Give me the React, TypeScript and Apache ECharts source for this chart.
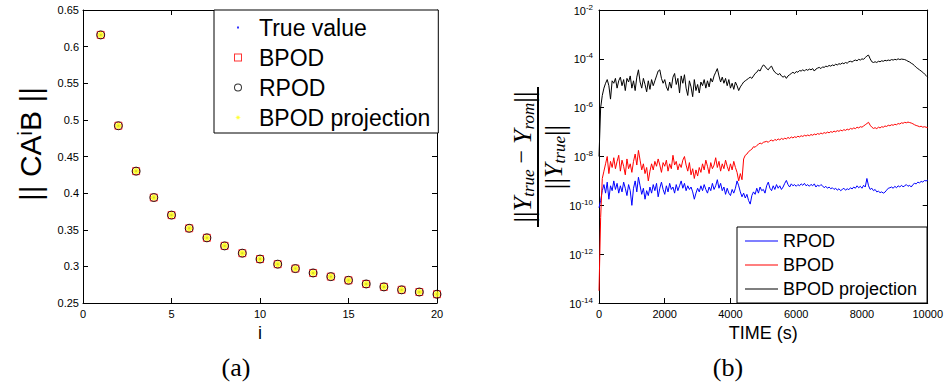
import React, { useEffect, useRef } from "react";
import * as echarts from "echarts";

const SANS = '"Liberation Sans", Arial, Helvetica, sans-serif';
const SERIF = '"Liberation Serif", "Times New Roman", serif';

// ---------- Panel (a): || C A^i B || versus i ----------
const powerIndex = [1, 2, 3, 4, 5, 6, 7, 8, 9, 10, 11, 12, 13, 14, 15, 16, 17, 18, 19, 20];
const trueValue = [0.616, 0.492, 0.43, 0.394, 0.37, 0.352, 0.339, 0.328, 0.318, 0.31, 0.303, 0.297, 0.291, 0.286, 0.281, 0.276, 0.272, 0.268, 0.265, 0.262];
const bpodValue = [0.616, 0.492, 0.43, 0.394, 0.37, 0.352, 0.339, 0.328, 0.318, 0.31, 0.303, 0.297, 0.291, 0.286, 0.281, 0.276, 0.272, 0.268, 0.265, 0.262];
const rpodValue = [0.616, 0.492, 0.43, 0.394, 0.37, 0.352, 0.339, 0.328, 0.318, 0.31, 0.303, 0.297, 0.291, 0.286, 0.281, 0.276, 0.272, 0.268, 0.265, 0.262];
const bpodProjValue = [0.616, 0.492, 0.43, 0.394, 0.37, 0.352, 0.339, 0.328, 0.318, 0.31, 0.303, 0.297, 0.291, 0.286, 0.281, 0.276, 0.272, 0.268, 0.265, 0.262];

// ---------- Panel (b): relative output error (log10), sampled every 50 s ----------
const TIME_STEP_S = 50;
const rpodLog10 = [
  -10.1, -9.8, -9.4, -9.15, -9.5, -9.05, -9.75, -9.2, -9.4, -9.0,
  -9.35, -9.1, -9.5, -9.2, -9.45, -9.05, -9.3, -9.6, -9.15, -9.4,
  -10.0, -9.3, -9.0, -9.45, -8.85, -9.2, -9.55, -9.3, -9.75, -9.4,
  -9.6, -9.25, -9.5, -9.15, -9.4, -9.1, -9.65, -9.3, -9.05, -9.35,
  -9.55, -9.2, -9.45, -9.1, -9.35, -9.25, -9.5, -9.15, -9.4, -9.2,
  -9.0, -9.3, -9.1, -9.4, -9.2, -9.35, -9.25, -9.45, -9.75, -9.5,
  -9.3, -9.45, -9.2, -9.4, -9.15, -9.35, -9.5, -9.25, -9.4, -9.1,
  -9.35, -9.2, -8.95, -9.3, -9.1, -9.4, -9.25, -9.55, -9.3, -9.5,
  -9.6, -9.35, -9.5, -9.3, -9.0, -9.2, -9.45, -9.65, -9.5, -9.7,
  -9.55, -9.8, -9.95, -9.6, -9.45, -9.55, -9.3, -9.5, -9.25, -9.4,
  -9.35, -9.5, -9.2, -9.05, -9.3, -9.4, -9.2, -9.35, -9.15, -9.3,
  -9.2, -9.35, -9.25, -9.1, -8.98, -9.15, -9.25, -9.12, -9.2, -9.15,
  -9.22, -9.15, -9.2, -9.12, -9.18, -9.1, -9.2, -9.15, -9.22, -9.14,
  -9.2, -9.12, -9.25, -9.17, -9.22, -9.15, -9.2, -9.28, -9.22, -9.3,
  -9.25, -9.32, -9.28, -9.35, -9.3, -9.38, -9.32, -9.4, -9.35, -9.3,
  -9.38, -9.32, -9.36, -9.28, -9.33, -9.25, -9.3, -9.2, -9.28, -9.22,
  -9.3, -9.18, -9.25, -8.9, -9.2, -9.35, -9.3, -9.4, -9.35, -9.45,
  -9.42, -9.48, -9.45, -9.5, -9.46, -9.38, -9.3, -9.28, -9.25, -9.3,
  -9.22, -9.28, -9.2, -9.25, -9.18, -9.24, -9.2, -9.15, -9.22, -9.18,
  -9.25, -9.15, -9.1, -9.12, -9.05, -9.08, -9.02, -9.05, -8.98, -9.0,
  -8.97,
];
const bpodLog10 = [
  -13.5, -10.5, -8.9, -8.6, -8.3, -8.0, -8.7, -8.2, -8.45, -8.05,
  -8.5, -8.2, -7.95, -8.6, -8.15, -8.4, -8.75, -8.1, -8.5, -8.3,
  -8.65, -8.2, -7.9, -8.35, -7.75, -8.15, -8.55, -8.3, -8.7, -8.45,
  -9.0, -8.6, -8.3, -8.55, -8.2, -8.4, -8.1, -8.35, -8.65, -8.25,
  -8.4, -8.15, -8.6, -8.3, -8.5, -7.95, -8.35, -8.2, -8.55, -8.3,
  -8.45, -8.15, -8.0, -8.35, -8.6, -8.25, -8.75, -8.5, -8.9, -8.55,
  -8.8, -8.45, -8.65, -8.3, -8.55, -8.15, -8.4, -8.7, -8.25, -8.5,
  -8.35, -8.05, -8.45, -8.2, -8.6, -8.3, -8.5, -8.15, -8.4, -8.6,
  -8.3, -8.55, -8.2, -8.45, -8.65, -9.0, -8.7, -8.95, -8.1, -7.95,
  -7.9, -7.8, -7.75, -7.7, -7.6, -7.62, -7.55, -7.5, -7.45, -7.48,
  -7.42, -7.4, -7.38, -7.42, -7.35, -7.33, -7.37, -7.3, -7.34, -7.28,
  -7.32, -7.26, -7.3, -7.25, -7.28, -7.22, -7.26, -7.2, -7.24, -7.19,
  -7.22, -7.17, -7.2, -7.15, -7.18, -7.13, -7.16, -7.12, -7.15, -7.1,
  -7.13, -7.08, -7.11, -7.06, -7.09, -7.04, -7.07, -7.02, -7.05, -7.0,
  -7.03, -6.98, -7.01, -6.96, -6.99, -6.94, -6.97, -6.92, -6.95, -6.9,
  -6.93, -6.88, -6.91, -6.85, -6.88, -6.83, -6.86, -6.8, -6.83, -6.78,
  -6.8, -6.75, -6.7, -6.65, -6.6, -6.72, -6.8, -6.85, -6.82, -6.86,
  -6.8, -6.83, -6.78, -6.8, -6.75, -6.77, -6.72, -6.74, -6.7, -6.72,
  -6.68, -6.7, -6.65, -6.67, -6.62, -6.64, -6.6, -6.62, -6.59, -6.61,
  -6.63, -6.66, -6.7, -6.73, -6.75, -6.78, -6.76, -6.8, -6.78, -6.8,
  -6.82,
];
const bpodProjLog10 = [
  -8.0, -6.0, -5.5, -5.2, -5.0, -4.85, -5.1, -5.65, -4.9, -5.0,
  -4.8, -5.2, -4.9, -4.75, -5.1, -4.85, -5.3, -4.8, -4.95, -4.7,
  -5.2, -4.9, -5.3, -4.75, -4.45, -4.95, -5.2, -4.8, -5.05, -5.35,
  -4.9, -5.25, -4.85, -5.1, -4.9, -4.7, -4.5, -4.45, -4.8, -5.0,
  -4.85, -5.15, -5.3, -4.95, -5.2, -4.75, -4.6, -5.05, -4.8, -5.4,
  -4.7, -5.0, -4.65, -5.2, -5.5, -4.9, -5.15, -5.55, -4.85, -5.3,
  -5.05, -5.4, -4.95, -5.1, -4.85, -5.2, -4.9, -5.15, -4.8, -4.95,
  -4.7, -4.55, -4.4, -4.7, -4.95, -4.75, -5.0, -4.8, -5.1, -4.85,
  -5.2, -5.0, -5.25, -4.95, -5.1, -5.3, -5.15, -5.05, -4.95, -4.9,
  -4.85, -4.8, -4.75, -4.8, -4.7, -4.6, -4.55, -4.45, -4.5, -4.35,
  -4.25, -4.3, -4.4, -4.45, -4.35, -4.3, -4.45, -4.55, -4.6, -4.65,
  -4.6, -4.7, -4.75, -4.7, -4.8, -4.7, -4.65, -4.6, -4.55, -4.6,
  -4.52, -4.55, -4.48, -4.5, -4.45, -4.5, -4.43, -4.47, -4.42, -4.45,
  -4.4, -4.5, -4.42, -4.38, -4.35, -4.4, -4.33, -4.35, -4.3, -4.32,
  -4.27, -4.3, -4.25, -4.28, -4.22, -4.25, -4.2, -4.22, -4.17, -4.2,
  -4.15, -4.18, -4.12, -4.1, -4.13, -4.08, -4.05, -4.08, -4.02, -4.05,
  -4.0, -4.02, -3.95, -3.88, -3.85, -4.0, -4.12, -4.15, -4.12, -4.15,
  -4.1, -4.12, -4.08, -4.1, -4.06, -4.08, -4.05, -4.07, -4.03, -4.05,
  -4.02, -4.04, -4.0, -4.03, -4.01, -4.02, -4.03, -4.06, -4.1, -4.13,
  -4.18, -4.22, -4.28, -4.35, -4.4, -4.45, -4.5, -4.55, -4.62, -4.68,
  -4.75,
];

const black = "#000";

function axisLine() {
  return { show: true, onZero: false, lineStyle: { color: black, width: 1 } };
}
function axisTick() {
  return { show: true, inside: true, length: 5, lineStyle: { color: black, width: 1 } };
}
function tickLabel(margin: number) {
  return { show: true, color: black, fontSize: 11, fontFamily: SANS, margin, formatter: (v: number) => String(v) };
}

function leftOption(): any {
  const pts = (vals: number[]) => powerIndex.map((x, k) => [x, vals[k]]);
  const frame = (extra: any) => ({
    type: "value",
    gridIndex: 0,
    axisLine: axisLine(),
    axisTick: axisTick(),
    splitLine: { show: false },
    ...extra,
  });
  return {
    animation: false,
    backgroundColor: "#fff",
    grid: [{ left: 83, top: 10, width: 354, height: 293 }],
    xAxis: [
      frame({
        min: 0, max: 20, interval: 5, position: "bottom",
        axisLabel: tickLabel(5),
        name: "i", nameLocation: "middle", nameGap: 15,
        nameTextStyle: { fontSize: 18, fontFamily: SANS, color: black },
      }),
      frame({ min: 0, max: 20, interval: 5, position: "top", axisLabel: { show: false } }),
    ],
    yAxis: [
      frame({ min: 0.25, max: 0.65, interval: 0.05, position: "left", axisLabel: { show: true, color: black, fontSize: 11, fontFamily: SANS, margin: 4 } }),
      frame({ min: 0.25, max: 0.65, interval: 0.05, position: "right", axisLabel: { show: false } }),
    ],
    legend: {
      orient: "vertical",
      left: 214,
      top: 10,
      padding: [6, 8, 4, 8],
      itemWidth: 32,
      itemHeight: 10,
      itemGap: 7,
      borderColor: black,
      borderWidth: 1,
      backgroundColor: "#fff",
      selectedMode: false,
      textStyle: { fontSize: 23, fontFamily: SANS, color: black },
      data: [
        {
          name: "True value",
          icon: "path://M0,0L0,0M32,10L32,10M15,4h2v2h-2z",
          itemStyle: { color: "#0000ff", borderWidth: 0 },
        },
        {
          name: "BPOD",
          icon: "path://M0,0L0,0M32,10L32,10M12,1h8v8h-8z M13,2v6h6v-6z",
          itemStyle: { color: "#ff0000", borderWidth: 0 },
        },
        {
          name: "RPOD",
          icon: "path://M0,0L0,0M32,10L32,10M12,5a4,4 0 1,0 8,0a4,4 0 1,0 -8,0z M13,5a3,3 0 1,1 6,0a3,3 0 1,1 -6,0z",
          itemStyle: { color: black, borderWidth: 0 },
        },
        {
          name: "BPOD projection",
          icon: "path://M0,0L0,0M32,10L32,10M19,5L16.92,5.38L18.12,7.12L16.38,5.92L16,8L15.62,5.92L13.88,7.12L15.08,5.38L13,5L15.08,4.62L13.88,2.88L15.62,4.08L16,2L16.38,4.08L18.12,2.88L16.92,4.62Z",
          itemStyle: { color: "#ffff00", borderWidth: 0 },
        },
      ],
    },
    series: [
      {
        name: "True value", type: "scatter", xAxisIndex: 0, yAxisIndex: 0,
        symbol: "rect", symbolSize: 2, silent: true,
        itemStyle: { color: "#0000ff" }, data: pts(trueValue),
      },
      {
        name: "BPOD", type: "scatter", xAxisIndex: 0, yAxisIndex: 0,
        symbol: "rect", symbolSize: 7, silent: true,
        itemStyle: { color: "rgba(0,0,0,0)", borderColor: "#ff0000", borderWidth: 1 },
        data: pts(bpodValue),
      },
      {
        name: "RPOD", type: "scatter", xAxisIndex: 0, yAxisIndex: 0,
        symbol: "circle", symbolSize: 8, silent: true,
        itemStyle: { color: "rgba(0,0,0,0)", borderColor: black, borderWidth: 1 },
        data: pts(rpodValue),
      },
      {
        name: "BPOD projection", type: "scatter", xAxisIndex: 0, yAxisIndex: 0,
        symbol: "circle", symbolSize: 6, silent: true,
        itemStyle: { color: "#ffff00" }, data: pts(bpodProjValue),
      },
    ],
    graphic: [
      {
        type: "text",
        x: 30,
        y: 144,
        rotation: Math.PI / 2,
        silent: true,
        style: {
          text: "{t||| CA}{sup|i}{t|B ||}",
          align: "center",
          verticalAlign: "middle",
          fill: black,
          rich: {
            t: { fontSize: 30, fontFamily: SANS, lineHeight: 30, padding: [15, 0, 0, 0], verticalAlign: "bottom", fill: black },
            sup: { fontSize: 20, fontFamily: SANS, lineHeight: 20, verticalAlign: "top", fill: black },
          },
        },
      },
      {
        type: "text",
        x: 236,
        y: 367,
        silent: true,
        style: { text: "(a)", fontSize: 26, fontFamily: SERIF, fill: black, align: "center", verticalAlign: "middle" },
      },
    ],
  };
}

function rightOption(): any {
  const pts = (vals: number[]) => vals.map((v, k) => [k * TIME_STEP_S, v]);
  const frame = (extra: any) => ({
    type: "value",
    gridIndex: 0,
    axisLine: axisLine(),
    axisTick: axisTick(),
    splitLine: { show: false },
    ...extra,
  });
  const fracRich = {
    Y: { fontSize: 26, fontStyle: "italic", fontFamily: SERIF, lineHeight: 28, padding: [0, 0, 3, 0], verticalAlign: "top", fill: black },
    sub: { fontSize: 17, fontStyle: "italic", fontFamily: SERIF, lineHeight: 17, verticalAlign: "bottom", fill: black },
    op: { fontSize: 24, fontFamily: SERIF, lineHeight: 28, verticalAlign: "top", fill: black },
    bar: { fontSize: 28, fontFamily: SERIF, lineHeight: 28, verticalAlign: "top", fill: black },
  };
  const lineIcon = "path://M0,0L0,0M33,10L33,10M0,4.4h33v1.2h-33z";
  return {
    animation: false,
    backgroundColor: "#fff",
    grid: [{ left: 126, top: 10, width: 329, height: 293 }],
    xAxis: [
      frame({
        min: 0, max: 10000, interval: 2000, position: "bottom",
        axisLabel: tickLabel(5),
        name: "TIME (s)", nameLocation: "middle", nameGap: 15,
        nameTextStyle: { fontSize: 18, fontFamily: SANS, color: black },
      }),
      frame({ min: 0, max: 10000, interval: 2000, position: "top", axisLabel: { show: false } }),
    ],
    yAxis: [
      frame({
        min: -14, max: -2, interval: 2, position: "left",
        axisLabel: {
          show: true,
          margin: 6,
          color: black,
          formatter: (v: number) => `{b|10}{s|${v}}`,
          rich: {
            b: { fontSize: 11, fontFamily: SANS, lineHeight: 14, padding: [3, 0, 1, 0], verticalAlign: "bottom", color: black },
            s: { fontSize: 8, fontFamily: SANS, lineHeight: 10, verticalAlign: "top", color: black },
          },
        },
      }),
      frame({ min: -14, max: -2, interval: 2, position: "right", axisLabel: { show: false } }),
    ],
    legend: {
      orient: "vertical",
      left: 264,
      top: 227,
      padding: [5, 10, 5, 8],
      itemWidth: 33,
      itemHeight: 10,
      itemGap: 6,
      borderColor: black,
      borderWidth: 1,
      backgroundColor: "#fff",
      selectedMode: false,
      textStyle: { fontSize: 18, fontFamily: SANS, color: black },
      data: [
        { name: "RPOD", icon: lineIcon, itemStyle: { color: "#0000ff", borderWidth: 0 } },
        { name: "BPOD", icon: lineIcon, itemStyle: { color: "#ff0000", borderWidth: 0 } },
        { name: "BPOD projection", icon: lineIcon, itemStyle: { color: black, borderWidth: 0 } },
      ],
    },
    series: [
      {
        name: "RPOD", type: "line", symbol: "none", showSymbol: false, silent: true,
        lineStyle: { color: "#0000ff", width: 1 }, itemStyle: { color: "#0000ff" },
        data: pts(rpodLog10),
      },
      {
        name: "BPOD", type: "line", symbol: "none", showSymbol: false, silent: true,
        lineStyle: { color: "#ff0000", width: 1 }, itemStyle: { color: "#ff0000" },
        data: pts(bpodLog10),
      },
      {
        name: "BPOD projection", type: "line", symbol: "none", showSymbol: false, silent: true,
        lineStyle: { color: black, width: 1 }, itemStyle: { color: black },
        data: pts(bpodProjLog10),
      },
    ],
    graphic: [
      {
        type: "group",
        x: 65,
        y: 157,
        rotation: Math.PI / 2,
        silent: true,
        children: [
          {
            type: "text",
            x: 0,
            y: -15,
            style: {
              text: "{bar|||}{Y|Y}{sub|true}{op| − }{Y|Y}{sub|rom}{bar|||}",
              align: "center",
              verticalAlign: "middle",
              fill: black,
              rich: fracRich,
            },
          },
          {
            type: "line",
            shape: { x1: -70, y1: 0, x2: 70, y2: 0 },
            style: { stroke: black, lineWidth: 2 },
          },
          {
            type: "text",
            x: 0,
            y: 16,
            style: {
              text: "{bar|||}{Y|Y}{sub|true}{bar|||}",
              align: "center",
              verticalAlign: "middle",
              fill: black,
              rich: fracRich,
            },
          },
        ],
      },
      {
        type: "text",
        x: 255,
        y: 367,
        silent: true,
        style: { text: "(b)", fontSize: 26, fontFamily: SERIF, fill: black, align: "center", verticalAlign: "middle" },
      },
    ],
  };
}

export default function App() {
  const leftRef = useRef<HTMLDivElement>(null);
  const rightRef = useRef<HTMLDivElement>(null);

  useEffect(() => {
    if (!leftRef.current || !rightRef.current) return;
    const left = echarts.init(leftRef.current, undefined, { renderer: "svg" });
    const right = echarts.init(rightRef.current, undefined, { renderer: "svg" });
    left.setOption(leftOption());
    right.setOption(rightOption());
    return () => {
      left.dispose();
      right.dispose();
    };
  }, []);

  return (
    <div style={{ position: "absolute", left: 0, top: 0, width: 946, height: 385, background: "#fff" }}>
      <div ref={leftRef} style={{ position: "absolute", left: 0, top: 0, width: 473, height: 385 }} />
      <div ref={rightRef} style={{ position: "absolute", left: 473, top: 0, width: 473, height: 385 }} />
    </div>
  );
}
